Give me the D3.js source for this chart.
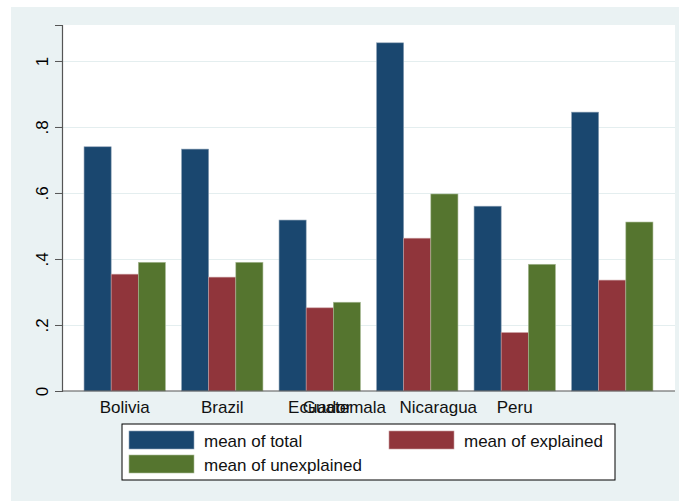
<!DOCTYPE html>
<html><head><meta charset="utf-8">
<script src="https://cdn.jsdelivr.net/npm/d3@7/dist/d3.min.js"></script>
<style>
html,body{margin:0;padding:0;background:#fff;}
svg{display:block;font-family:"Liberation Sans",Arial,sans-serif;}
</style></head>
<body>
<svg id="chart" width="679" height="501"></svg>
<script>
// ---- data ----
const groups = ["g1","g2","g3","g4","g5","g6"];
const total       = [0.740, 0.733, 0.518, 1.055, 0.560, 0.845];
const explained   = [0.354, 0.345, 0.252, 0.463, 0.177, 0.336];
const unexplained = [0.390, 0.390, 0.269, 0.597, 0.384, 0.512];
const seriesNames = ["mean of total", "mean of explained", "mean of unexplained"];
const xLabels = ["Bolivia", "Brazil", "Ecuador", "Guatemala", "Nicaragua", "Peru"];
const xLabelSlots = [0, 1, 2, 2.253, 3.216, 4]; // where each label sits, in group units
const yTicks = [0, 0.2, 0.4, 0.6, 0.8, 1];
const yTickLabels = ["0", ".2", ".4", ".6", ".8", "1"];

// ---- layout ----
const colors = ["#1a476f", "#90353b", "#55752f"];
const strokes = ["#8fa3b7", "#c79a9d", "#aabb97"];
const bg = "#eaf2f3";
const plot = {left: 62, right: 675, top: 25, bottom: 391};

const svg = d3.select("#chart");
svg.append("rect").attr("x", 11).attr("y", 7).attr("width", 668).attr("height", 494).attr("fill", bg);
svg.append("rect").attr("x", plot.left).attr("y", plot.top)
  .attr("width", plot.right - plot.left).attr("height", plot.bottom - plot.top).attr("fill", "#fff");

const x = d3.scaleBand().domain(d3.range(groups.length)).range([plot.left, plot.right])
  .paddingInner(0.165).paddingOuter(0.226);
const xs = d3.scaleBand().domain(d3.range(3)).range([0, x.bandwidth()]);
const y = d3.scaleLinear().domain([0, 1.109]).range([plot.bottom, plot.top]);
const slot = d3.scaleLinear().domain([0, 1]).range([x(0) + x.bandwidth()/2, x(1) + x.bandwidth()/2]);

// grid
svg.append("g").selectAll("line").data(yTicks.filter(d => d > 0)).join("line")
  .attr("x1", plot.left).attr("x2", plot.right)
  .attr("y1", d => Math.round(y(d)) + 0.5).attr("y2", d => Math.round(y(d)) + 0.5)
  .attr("stroke", "#e4eeef").attr("stroke-width", 1.2);

// bars
const series = [total, explained, unexplained];
series.forEach((vals, si) => {
  svg.append("g").selectAll("rect").data(vals).join("rect")
    .attr("x", (d, i) => x(i) + xs(si))
    .attr("y", d => y(d))
    .attr("width", xs.bandwidth())
    .attr("height", d => y(0) - y(d))
    .attr("fill", colors[si])
    .attr("stroke", strokes[si]).attr("stroke-width", 0.6);
});

// y axis
const yAxis = d3.axisLeft(y).tickValues(yTicks).tickSize(7)
  .tickFormat((d, i) => yTickLabels[i]).tickPadding(0);
const gy = svg.append("g").attr("transform", `translate(${plot.left},0)`).call(yAxis);
gy.select(".domain").attr("stroke", "#555").attr("stroke-width", 1.2);
gy.selectAll(".tick line").attr("stroke", "#555");
gy.selectAll(".tick text").remove();
gy.selectAll(".tick").append("text")
  .attr("transform", "translate(-20,0) rotate(-90)")
  .attr("text-anchor", "middle").attr("dy", "0.35em")
  .attr("fill", "#000").attr("font-size", 17)
  .attr("font-family", "Liberation Sans, Arial, sans-serif")
  .text((d, i) => yTickLabels[i]);

// x baseline
svg.append("line").attr("x1", plot.left).attr("x2", plot.right)
  .attr("y1", y(0)).attr("y2", y(0)).attr("stroke", "#555").attr("stroke-width", 1.2);

// x labels
svg.append("g").selectAll("text").data(xLabels).join("text")
  .attr("x", (d, i) => slot(xLabelSlots[i])).attr("y", 413)
  .attr("text-anchor", "middle").attr("font-size", 17).attr("fill", "#111")
  .text(d => d);

// legend
const lg = svg.append("g");
lg.append("rect").attr("x", 122).attr("y", 424).attr("width", 493).attr("height", 56)
  .attr("fill", "#fff").attr("stroke", "#000").attr("stroke-width", 1);
const legPos = [[129, 431], [389, 431], [129, 455]];
seriesNames.forEach((name, i) => {
  lg.append("rect").attr("x", legPos[i][0]).attr("y", legPos[i][1])
    .attr("width", 65).attr("height", 18).attr("fill", colors[i])
    .attr("stroke", strokes[i]).attr("stroke-width", 0.6);
  lg.append("text").attr("x", legPos[i][0] + 75).attr("y", legPos[i][1] + 16)
    .attr("font-size", 17).attr("fill", "#111").text(name);
});
</script>
</body></html>
